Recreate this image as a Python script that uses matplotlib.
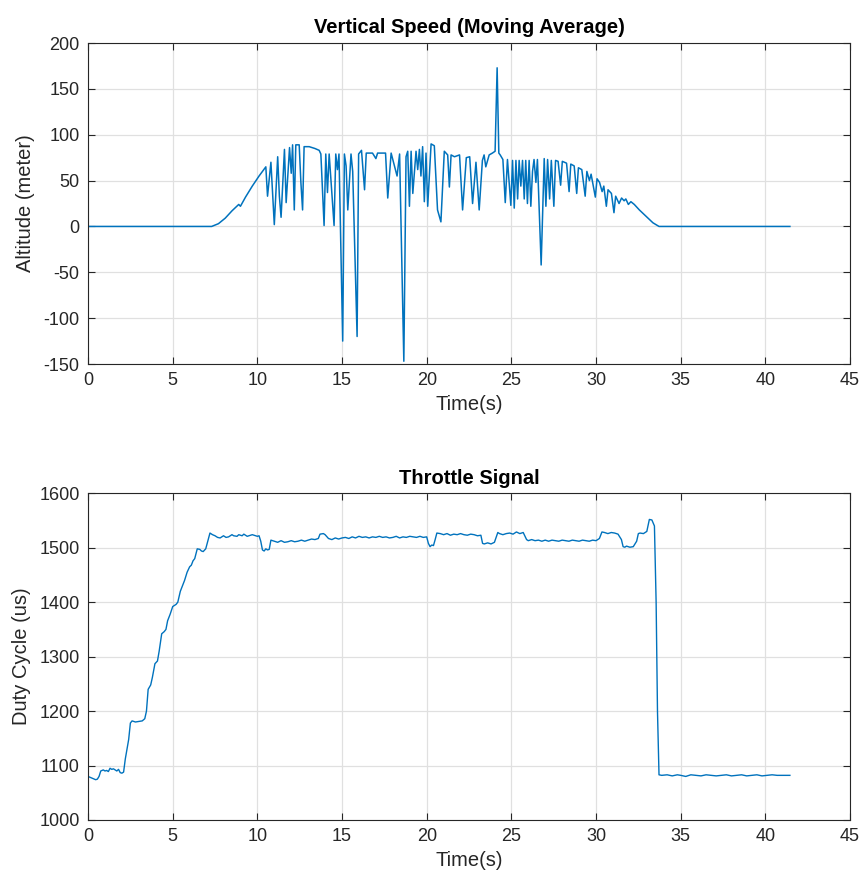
import matplotlib
matplotlib.use("Agg")
import matplotlib.pyplot as plt

# Vertical speed (moving average): (time s, speed) samples
speed_points = [
    (0.0, 0), (7.3, 0), (7.7, 3), (8.1, 9), (8.5, 17), (8.9, 24), (9.0, 22),
    (9.3, 32), (9.7, 44), (10.1, 55), (10.5, 65), (10.6, 33), (10.8, 70),
    (11.0, 2), (11.2, 76), (11.3, 33), (11.4, 10), (11.6, 84), (11.7, 26),
    (11.9, 86), (12.0, 58), (12.08, 89), (12.18, 18), (12.27, 89),
    (12.47, 89), (12.57, 48), (12.67, 18), (12.76, 87), (13.06, 87),
    (13.4, 85), (13.65, 83), (13.75, 79), (13.94, 1), (14.04, 79),
    (14.14, 37), (14.24, 79), (14.53, 1), (14.63, 79), (14.73, 62),
    (14.82, 79), (15.04, -125), (15.14, 79), (15.24, 66), (15.34, 18),
    (15.53, 79), (15.63, 60), (15.89, -120), (15.98, 79), (16.15, 83),
    (16.33, 40), (16.43, 80), (16.8, 80), (17.0, 74), (17.1, 80),
    (17.57, 80), (17.7, 31), (17.9, 80), (18.25, 55), (18.4, 79),
    (18.65, -147), (18.78, 76), (18.88, 82), (18.98, 22), (19.08, 82),
    (19.18, 36), (19.37, 82), (19.47, 62), (19.57, 84), (19.66, 55),
    (19.76, 87), (19.86, 27), (19.96, 80), (20.06, 22), (20.26, 90),
    (20.45, 88), (20.64, 18), (20.84, 5), (21.04, 82), (21.24, 78),
    (21.34, 43), (21.44, 78), (21.64, 76), (21.94, 78), (22.12, 18),
    (22.34, 75), (22.54, 76), (22.71, 25), (22.91, 70), (23.1, 18),
    (23.29, 72), (23.39, 78), (23.49, 65), (23.69, 78), (23.88, 80),
    (24.04, 82), (24.16, 173), (24.26, 80), (24.34, 78), (24.5, 73),
    (24.64, 26), (24.77, 73), (24.97, 23), (25.07, 72), (25.17, 20),
    (25.27, 72), (25.37, 30), (25.46, 72), (25.56, 44), (25.66, 72),
    (25.76, 30), (25.85, 72), (25.95, 25), (26.05, 72), (26.15, 22),
    (26.25, 60), (26.34, 73), (26.45, 48), (26.54, 73), (26.76, -42),
    (26.94, 74), (27.04, 22), (27.14, 73), (27.26, 30), (27.36, 72),
    (27.51, 22), (27.61, 72), (27.76, 71), (27.91, 45), (28.01, 71),
    (28.26, 69), (28.41, 38), (28.51, 68), (28.71, 66), (28.86, 36),
    (28.96, 64), (29.16, 62), (29.36, 33), (29.46, 60), (29.61, 50),
    (29.71, 57), (29.96, 32), (30.06, 52), (30.21, 48), (30.36, 38),
    (30.46, 44), (30.61, 22), (30.71, 40), (30.91, 36), (31.06, 15),
    (31.16, 33), (31.36, 25), (31.51, 31), (31.66, 28), (31.76, 30),
    (31.91, 24), (32.06, 27), (32.26, 24), (32.56, 18), (32.96, 11),
    (33.36, 4), (33.72, 0), (41.45, 0),
]

# Throttle signal: (time s, PWM duty cycle in microseconds) samples
throttle_points = [
    (0.0, 1080), (0.15, 1078), (0.3, 1076), (0.45, 1074), (0.55, 1075),
    (0.65, 1080), (0.75, 1090), (0.9, 1092), (1.0, 1090), (1.1, 1091),
    (1.2, 1089), (1.3, 1095), (1.4, 1093), (1.5, 1094), (1.6, 1092),
    (1.7, 1090), (1.8, 1093), (1.9, 1087), (2.0, 1086), (2.1, 1088),
    (2.2, 1112), (2.3, 1130), (2.4, 1148), (2.5, 1178), (2.6, 1182),
    (2.8, 1180), (3.0, 1181), (3.2, 1182), (3.35, 1186), (3.45, 1200),
    (3.55, 1240), (3.7, 1248), (3.8, 1262), (3.95, 1287), (4.1, 1292),
    (4.2, 1310), (4.35, 1342), (4.5, 1346), (4.6, 1350), (4.7, 1366),
    (4.85, 1378), (5.0, 1392), (5.1, 1394), (5.2, 1396), (5.3, 1400),
    (5.45, 1420), (5.6, 1432), (5.7, 1440), (5.85, 1455), (6.0, 1465),
    (6.1, 1468), (6.2, 1476), (6.3, 1480), (6.45, 1498), (6.6, 1497),
    (6.7, 1494), (6.8, 1493), (6.95, 1498), (7.1, 1515), (7.2, 1527),
    (7.35, 1524), (7.5, 1522), (7.65, 1519), (7.8, 1518), (8.0, 1522),
    (8.15, 1519), (8.3, 1520), (8.5, 1524), (8.6, 1522), (8.8, 1521),
    (8.9, 1524), (9.1, 1522), (9.2, 1525), (9.4, 1521), (9.5, 1522),
    (9.7, 1524), (9.8, 1523), (10.0, 1521), (10.1, 1522), (10.2, 1512),
    (10.3, 1496), (10.4, 1494), (10.5, 1498), (10.6, 1496), (10.7, 1497),
    (10.8, 1514), (11.0, 1512), (11.2, 1510), (11.4, 1513), (11.6, 1510),
    (11.8, 1511), (12.0, 1513), (12.2, 1511), (12.4, 1512), (12.6, 1514),
    (12.8, 1512), (13.0, 1514), (13.2, 1516), (13.4, 1515), (13.6, 1517),
    (13.7, 1525), (13.9, 1526), (14.0, 1524), (14.2, 1517), (14.4, 1515),
    (14.6, 1518), (14.8, 1516), (15.0, 1518), (15.2, 1519), (15.4, 1517),
    (15.6, 1520), (15.8, 1518), (16.0, 1521), (16.2, 1519), (16.4, 1520),
    (16.6, 1518), (16.8, 1520), (17.0, 1519), (17.2, 1521), (17.4, 1519),
    (17.6, 1520), (17.8, 1518), (18.0, 1519), (18.2, 1521), (18.4, 1518),
    (18.6, 1520), (18.8, 1519), (19.0, 1521), (19.2, 1520), (19.4, 1519),
    (19.6, 1521), (19.8, 1519), (20.0, 1520), (20.1, 1508), (20.2, 1502),
    (20.3, 1505), (20.4, 1504), (20.5, 1515), (20.6, 1527), (20.8, 1526),
    (21.0, 1524), (21.2, 1526), (21.4, 1523), (21.6, 1525), (21.8, 1524),
    (22.0, 1526), (22.2, 1524), (22.4, 1523), (22.6, 1525), (22.8, 1524),
    (23.0, 1522), (23.2, 1523), (23.3, 1508), (23.4, 1507), (23.6, 1509),
    (23.8, 1507), (24.0, 1510), (24.2, 1528), (24.3, 1526), (24.5, 1524),
    (24.7, 1526), (24.9, 1527), (25.1, 1525), (25.3, 1529), (25.5, 1526),
    (25.7, 1528), (25.9, 1515), (26.0, 1513), (26.2, 1515), (26.4, 1513),
    (26.6, 1514), (26.8, 1512), (27.0, 1514), (27.2, 1512), (27.4, 1514),
    (27.6, 1513), (27.8, 1512), (28.0, 1514), (28.2, 1513), (28.4, 1512),
    (28.6, 1514), (28.8, 1513), (29.0, 1512), (29.2, 1514), (29.4, 1513),
    (29.6, 1512), (29.8, 1514), (30.0, 1513), (30.2, 1517), (30.35, 1529),
    (30.5, 1528), (30.7, 1526), (30.9, 1528), (31.1, 1527), (31.3, 1525),
    (31.5, 1515), (31.6, 1502), (31.7, 1501), (31.8, 1503), (32.0, 1501),
    (32.2, 1502), (32.4, 1512), (32.5, 1526), (32.6, 1527), (32.8, 1526),
    (33.0, 1530), (33.15, 1552), (33.3, 1551), (33.45, 1540), (33.55, 1400),
    (33.63, 1200), (33.72, 1083), (33.88, 1082), (34.2, 1083), (34.5, 1081),
    (34.8, 1083), (35.0, 1082), (35.3, 1080), (35.6, 1083), (35.9, 1082),
    (36.2, 1081), (36.5, 1083), (36.8, 1082), (37.1, 1081), (37.4, 1082),
    (37.7, 1083), (38.0, 1081), (38.3, 1082), (38.6, 1083), (38.9, 1081),
    (39.2, 1082), (39.5, 1083), (39.8, 1081), (40.1, 1082), (40.4, 1083),
    (40.7, 1082), (41.0, 1082), (41.45, 1082),
]

speed_time = [p[0] for p in speed_points]
speed_value = [p[1] for p in speed_points]
throttle_time = [p[0] for p in throttle_points]
throttle_value = [p[1] for p in throttle_points]

x_ticks = list(range(0, 46, 5))
speed_ticks = list(range(-150, 201, 50))
throttle_ticks = list(range(1000, 1601, 100))

LINE = "#0072BD"
DARK = "#262626"
GRID = "#e0e0e0"

plt.rcParams["font.family"] = ["Liberation Sans", "DejaVu Sans"]
plt.rcParams["axes.unicode_minus"] = False

fig = plt.figure(figsize=(8.64, 8.82), dpi=100)
ax_top = fig.add_axes([0.1019, 0.5873, 0.8819, 0.3639])
ax_bot = fig.add_axes([0.1019, 0.0703, 0.8819, 0.3704])


def style(ax):
    ax.set_facecolor("white")
    for sp in ax.spines.values():
        sp.set_color(DARK)
        sp.set_linewidth(0.8)
    ax.grid(True, color=GRID, linewidth=0.9)
    ax.set_axisbelow(True)
    ax.tick_params(direction="in", top=True, right=True, length=5,
                   width=0.8, color=DARK, labelcolor=DARK, labelsize=13,
                   pad=6)


ax_top.plot(speed_time, speed_value, color=LINE, linewidth=1.1)
ax_top.set_xlim(0, 45)
ax_top.set_ylim(-150, 200)
ax_top.set_xticks(x_ticks)
ax_top.set_yticks(speed_ticks)
style(ax_top)
ax_top.set_title("Vertical Speed (Moving Average)", fontsize=14.5,
                 fontweight="bold", color="black", pad=7)
ax_top.set_xlabel("Time(s)", fontsize=14.5, color=DARK, labelpad=4)
ax_top.set_ylabel("Altitude (meter)", fontsize=14.5, color=DARK, labelpad=6)

ax_bot.plot(throttle_time, throttle_value, color=LINE, linewidth=1.0)
ax_bot.set_xlim(0, 45)
ax_bot.set_ylim(1000, 1600)
ax_bot.set_xticks(x_ticks)
ax_bot.set_yticks(throttle_ticks)
style(ax_bot)
ax_bot.set_title("Throttle Signal", fontsize=14.5, fontweight="bold",
                 color="black", pad=7)
ax_bot.set_xlabel("Time(s)", fontsize=14.5, color=DARK, labelpad=4)
ax_bot.set_ylabel("Duty Cycle (us)", fontsize=14.5, color=DARK, labelpad=6)

fig.savefig("out.png", dpi=100, facecolor="white")
